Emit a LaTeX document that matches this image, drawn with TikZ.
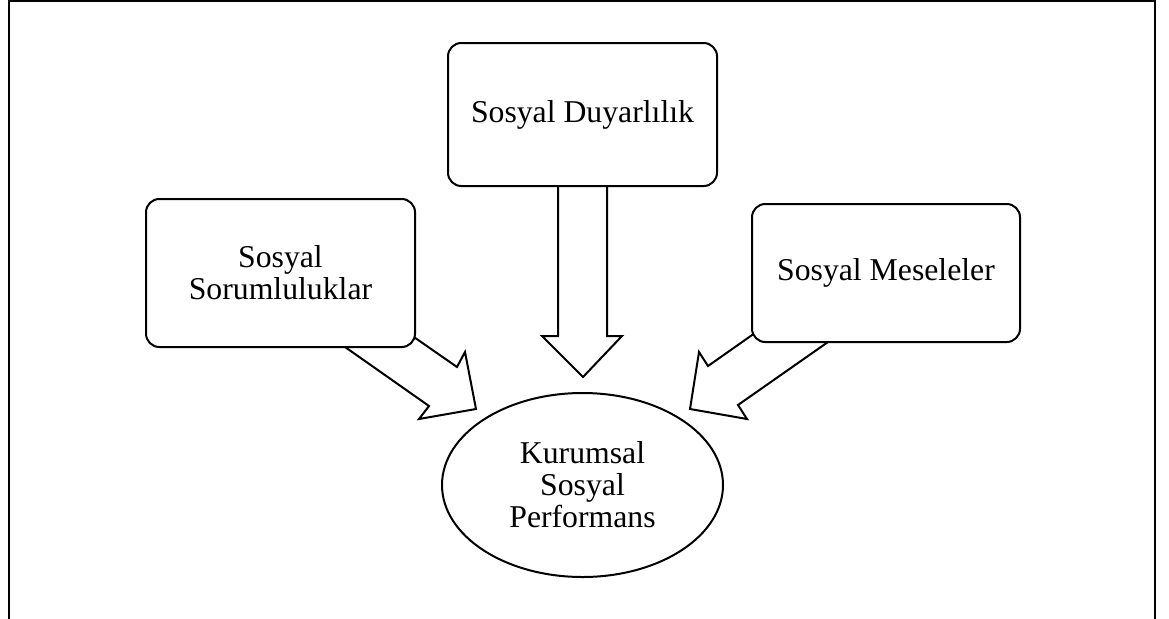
\documentclass[tikz,border=0pt]{standalone}
\usepackage{fontspec}
\setmainfont{Liberation Serif}
\usetikzlibrary{shapes.geometric}
\begin{document}
\begin{tikzpicture}[x=0.75pt,y=-0.75pt,
  every node/.style={font=\fontsize{23.8}{24}\selectfont, align=center},
  boxnode/.style={draw, line width=1.5pt, rounded corners=10pt, fill=white, inner sep=0pt},
  blockarrow/.style={draw, line width=1.5pt, fill=white, line join=miter}]
\useasboundingbox (0,0) rectangle (1169,618);
% open frame round the figure
\draw[line width=1.6pt] (9,630) -- (9,1) -- (1155,1) -- (1155,630);

% block arrows (drawn first, the boxes cover their tails)
\draw[blockarrow] (583,150) -- (558,150) -- (558,336) -- (542,336) -- (583,377)
  -- (622,336) -- (607,336) -- (607,150) -- cycle;
\draw[blockarrow] (388,319) -- (457,367) -- (465,352) -- (476,409) -- (419,419)
  -- (429,406) -- (318,328) -- cycle;
\draw[blockarrow] (782,314) -- (708,366) -- (699,352) -- (690,409) -- (747,419)
  -- (738,405) -- (858,321) -- cycle;

% boxes
\node[boxnode, minimum width=201.75pt, minimum height=107.25pt] (duy) at (582.5,114.5) {Sosyal Duyarlılık};
\node[boxnode, minimum width=201.75pt, minimum height=111pt] (sor) at (280.5,273) {Sosyal\\Sorumluluklar};
\node[boxnode, minimum width=201pt, minimum height=103.5pt] (mes) at (886,273) {Sosyal Meseleler};

% central ellipse
\node[draw, ellipse, line width=1.5pt, inner sep=0pt, minimum width=210.75pt, minimum height=138pt] (ksp) at (582.5,485) {Kurumsal\\Sosyal\\Performans};
\end{tikzpicture}
\end{document}
